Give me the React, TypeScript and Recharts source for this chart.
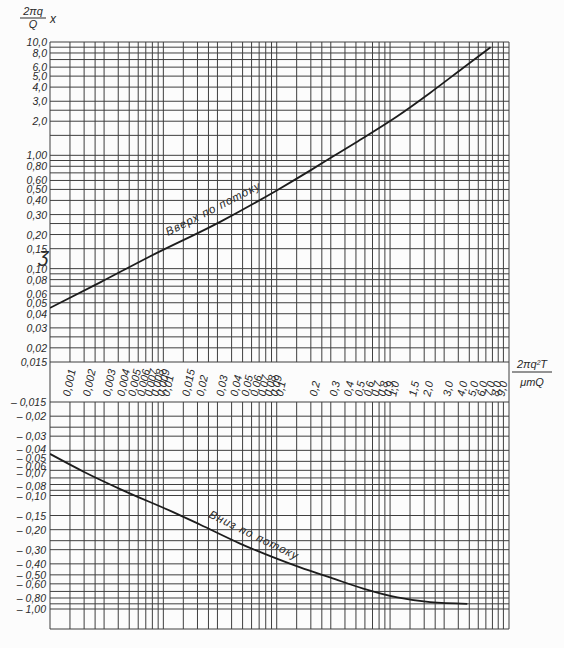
import React from 'react'
import { LineChart, Line, XAxis, YAxis, CartesianGrid } from 'recharts'

// upstream branch: 2πq²T/(μmQ) -> 2πq·x/Q
const upT = [0.001, 0.0028, 0.0076, 0.032, 0.1, 0.2, 0.3, 0.5, 1.15, 2.25, 4.4, 7.7]
const upX = [0.045, 0.076, 0.128, 0.26, 0.49, 0.74, 0.95, 1.3, 2.2, 3.55, 5.9, 9.0]

// downstream branch, plotted by magnitude (axis is labelled negative)
const downT = [0.001, 0.002, 0.0044, 0.0122, 0.021, 0.0475, 0.1, 0.161, 0.3, 0.58, 1.16, 2.26, 4.8]
const downX = [0.043, 0.062, 0.09, 0.14, 0.18, 0.265, 0.36, 0.43, 0.53, 0.66, 0.79, 0.87, 0.9]

// tick labels
const xLabels = [
  0.001, 0.002, 0.003, 0.004, 0.005, 0.006, 0.007, 0.008, 0.009, 0.01,
  0.015, 0.02, 0.03, 0.04, 0.05, 0.06, 0.07, 0.08, 0.09, 0.1,
  0.2, 0.3, 0.4, 0.5, 0.6, 0.7, 0.8, 0.9, 1.0, 1.5, 2.0, 3.0,
  4.0, 5.0, 6.0, 7.0, 8.0, 9.0
]
const upYLabels = [
  10, 8, 6, 5, 4, 3, 2, 1, 0.8, 0.6, 0.5, 0.4, 0.3, 0.2, 0.15, 0.1,
  0.08, 0.06, 0.05, 0.04, 0.03, 0.02, 0.015
]
const downYLabels = [
  0.015, 0.02, 0.03, 0.04, 0.05, 0.06, 0.07, 0.08, 0.1, 0.15, 0.2,
  0.3, 0.4, 0.5, 0.6, 0.8, 1.0
]

// log paper rulings inside each decade
const gridSteps = [1, 1.5, 2, 2.5, 3, 4, 5, 6, 7, 8, 9]

const xDomain = [0.001, 11.2]
const upDomain = [0.015, 10]
const downDomain = [0.015, 1.5]

const logGrid = (lo: number, hi: number) => {
  const out: number[] = []
  for (let e = -4; e <= 2; e++) {
    gridSteps.forEach((s) => {
      const v = s * Math.pow(10, e)
      if (v >= lo * 0.999 && v <= hi * 1.001) out.push(v)
    })
  }
  if (Math.abs(out[out.length - 1] - hi) / hi > 0.001) out.push(hi)
  return out
}

const xGrid = logGrid(xDomain[0], xDomain[1])
const upGrid = logGrid(upDomain[0], upDomain[1])
const downGrid = logGrid(downDomain[0], downDomain[1])

const upRows = upT.map((t, i) => ({ t, x: upX[i] }))
const downRows = downT.map((t, i) => ({ t, x: downX[i] }))

const FONT = '"Liberation Sans", Arial, sans-serif'
const INK = '#2a2a2a'
const GRID = '#3f3f3f'

const findLabel = (labels: number[], v: number) =>
  labels.find((l) => Math.abs(l - v) / l < 1e-6)

const fmtX = (v: number) =>
  v < 1 ? String(v).replace('.', ',') : v.toFixed(1).replace('.', ',')

const fmtY = (v: number) => {
  if (v === 0.015) return '0,015'
  if (v >= 2) return v.toFixed(1).replace('.', ',')
  return v.toFixed(2).replace('.', ',')
}

// the hand-lettered scale spreads its crowded labels a little
const downNudge: Record<string, number> = { '0.04': -1, '0.05': -3, '0.06': -4, '0.07': -5, '0.08': 1 }

const XTick = (props: any) => {
  const { x, y, payload } = props
  const v = findLabel(xLabels, payload.value)
  if (v === undefined) return null
  const dx = v === 0.001 ? 20 : 6
  return (
    <text
      transform={`translate(${x + dx},${y + 35}) rotate(-78)`}
      fontFamily={FONT}
      fontStyle="italic"
      fontSize={11}
      fill={INK}
      textAnchor="start"
    >
      {fmtX(v)}
    </text>
  )
}

const NoTick = () => null

const makeYTick = (labels: number[], prefix: string, nudge: Record<string, number>) => (props: any) => {
  const { x, y, payload } = props
  const v = findLabel(labels, payload.value)
  if (v === undefined) return null
  return (
    <text
      x={x}
      y={y + (nudge[String(v)] || 0)}
      dy={4}
      textAnchor="end"
      fontFamily={FONT}
      fontStyle="italic"
      fontSize={10.5}
      fill={INK}
    >
      {prefix + fmtY(v)}
    </text>
  )
}

const UpYTick = makeYTick(upYLabels, '', {})
const DownYTick = makeYTick(downYLabels, '– ', downNudge)

const App = () => {
  return (
    <div
      style={{
        position: 'absolute',
        left: 0,
        top: 0,
        width: 564,
        height: 648,
        background: '#fcfcfc',
        overflow: 'hidden'
      }}
    >
      <div style={{ position: 'absolute', left: 0, top: 0 }}>
        <LineChart
          width={564}
          height={405}
          data={upRows}
          margin={{ top: 42, right: 55, bottom: 3, left: 0 }}
        >
          <CartesianGrid stroke={GRID} strokeWidth={1} />
          <XAxis
            type="number"
            dataKey="t"
            scale="log"
            domain={xDomain}
            allowDataOverflow
            ticks={xGrid}
            interval={0}
            axisLine={false}
            tickLine={false}
            tickSize={0}
            tickMargin={0}
            height={40}
            tick={<XTick />}
          />
          <YAxis
            type="number"
            dataKey="x"
            scale="log"
            domain={upDomain}
            allowDataOverflow
            ticks={upGrid}
            interval={0}
            axisLine={false}
            tickLine={false}
            tickSize={0}
            tickMargin={3}
            width={50}
            tick={<UpYTick />}
          />
          <Line
            type="monotone"
            dataKey="x"
            stroke="#1c1c1c"
            strokeWidth={1.8}
            dot={false}
            isAnimationActive={false}
          />
        </LineChart>
      </div>

      <div style={{ position: 'absolute', left: 0, top: 395 }}>
        <LineChart
          width={564}
          height={253}
          data={downRows}
          margin={{ top: 7, right: 55, bottom: 19, left: 0 }}
        >
          <CartesianGrid stroke={GRID} strokeWidth={1} />
          <XAxis
            type="number"
            dataKey="t"
            scale="log"
            domain={xDomain}
            allowDataOverflow
            ticks={xGrid}
            interval={0}
            axisLine={false}
            tickLine={false}
            tickSize={0}
            tick={<NoTick />}
            height={0}
          />
          <YAxis
            type="number"
            dataKey="x"
            scale="log"
            reversed
            domain={downDomain}
            allowDataOverflow
            ticks={downGrid}
            interval={0}
            axisLine={false}
            tickLine={false}
            tickSize={0}
            tickMargin={4}
            width={50}
            tick={<DownYTick />}
          />
          <Line
            type="monotone"
            dataKey="x"
            stroke="#1c1c1c"
            strokeWidth={1.8}
            dot={false}
            isAnimationActive={false}
          />
        </LineChart>
      </div>

      <svg
        width={564}
        height={648}
        style={{ position: 'absolute', left: 0, top: 0, pointerEvents: 'none' }}
        fontFamily={FONT}
        fontStyle="italic"
        fill={INK}
      >
        {/* y title: 2πq/Q · x */}
        <text x={33} y={15} fontSize={11} textAnchor="middle">2πq</text>
        <line x1={20} x2={46} y1={18} y2={18} stroke={INK} strokeWidth={1} />
        <text x={33} y={28} fontSize={11} textAnchor="middle">Q</text>
        <text x={50} y={23} fontSize={12}>x</text>

        {/* x title: 2πq²T / μmQ */}
        <text x={532} y={368} fontSize={11} textAnchor="middle">2πq²T</text>
        <line x1={512} x2={552} y1={372} y2={372} stroke={INK} strokeWidth={1} />
        <text x={532} y={386} fontSize={11} textAnchor="middle">μmQ</text>

        {/* frame edges carry on through the label strip */}
        <line x1={50} x2={50} y1={362} y2={402} stroke={GRID} strokeWidth={1} />
        <line x1={509} x2={509} y1={362} y2={402} stroke={GRID} strokeWidth={1} />

        <text x={39} y={262} fontSize={20}>ʒ</text>

        <text
          transform="translate(168,236) rotate(-27)"
          fontSize={11.5}
          letterSpacing={1}
        >
          Вверх по потоку
        </text>
        <text
          transform="translate(208,517) rotate(26)"
          fontSize={11.5}
          letterSpacing={1}
        >
          Вниз по потоку
        </text>
      </svg>
    </div>
  )
}

export default App
